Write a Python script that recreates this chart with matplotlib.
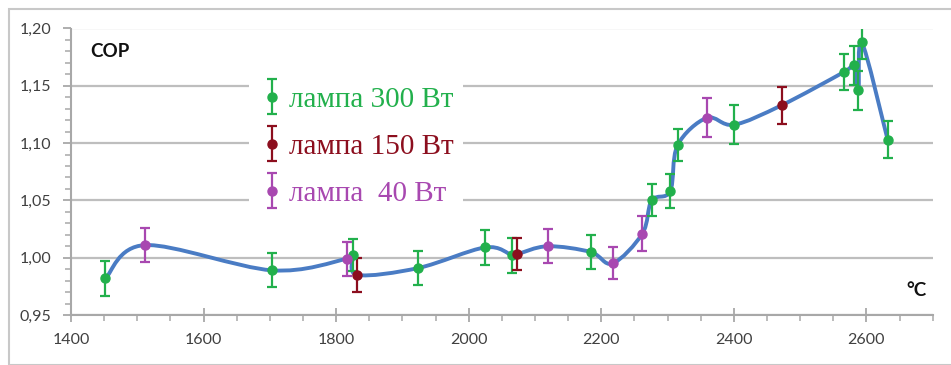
import numpy as np
import matplotlib
matplotlib.use("Agg")
import matplotlib.pyplot as plt
from matplotlib.path import Path
from matplotlib.patches import PathPatch, Rectangle
from matplotlib.ticker import MultipleLocator, FuncFormatter
from matplotlib.legend_handler import HandlerErrorbar

# ---- data ----
t300 = [1452, 1703, 1825, 1924, 2025, 2066, 2184, 2276, 2304, 2315, 2400, 2566, 2581, 2588, 2593, 2632]
cop300 = [0.982, 0.989, 1.002, 0.991, 1.009, 1.002, 1.005, 1.050, 1.058, 1.098, 1.116, 1.162, 1.168, 1.146, 1.188, 1.103]
err300 = [0.015, 0.015, 0.014, 0.015, 0.015, 0.015, 0.015, 0.014, 0.015, 0.014, 0.017, 0.016, 0.017, 0.017, 0.015, 0.016]

t150 = [1832, 2073, 2472]
cop150 = [0.985, 1.003, 1.133]
err150 = [0.015, 0.014, 0.016]

t40 = [1512, 1816, 2119, 2217, 2262, 2359]
cop40 = [1.011, 0.999, 1.010, 0.995, 1.021, 1.122]
err40 = [0.015, 0.015, 0.015, 0.014, 0.015, 0.017]

labels = ["лампа 300 Вт", "лампа 150 Вт", "лампа  40 Вт"]
col300, col150, col40 = "#22B04C", "#8C0E1E", "#A848B0"
line_col = "#4A7CC4"

fig = plt.figure(figsize=(9.51, 3.65), dpi=100)
ax = fig.add_axes([71/951, 1-315/365, (932.7-71)/951, (315-28.5)/365])

# smoothed connecting line (Catmull-Rom through all points, sorted by temperature)
allx = np.array(t300 + t150 + t40, dtype=float)
ally = np.array(cop300 + cop150 + cop40, dtype=float)
order = np.argsort(allx, kind="stable")
P = np.column_stack([allx[order], ally[order]])
n = len(P)
verts = [P[0]]
codes = [Path.MOVETO]
for i in range(n - 1):
    p0 = P[i - 1] if i > 0 else P[i]
    p1, p2 = P[i], P[i + 1]
    p3 = P[i + 2] if i + 2 < n else P[i + 1]
    c1 = p1 + (p2 - p0) / 6.0
    c2 = p2 - (p3 - p1) / 6.0
    verts += [c1, c2, p2]
    codes += [Path.CURVE4] * 3
ax.add_patch(PathPatch(Path(verts, codes), facecolor="none", edgecolor=line_col, lw=2.8, zorder=3,
                       capstyle="round", joinstyle="round"))

ekw = dict(fmt="o", ms=6.5, capsize=3.5, elinewidth=1.6, capthick=1.6, zorder=4)
h1 = ax.errorbar(t300, cop300, yerr=err300, color=col300, label=labels[0], **ekw)
h2 = ax.errorbar(t150, cop150, yerr=err150, color=col150, label=labels[1], **ekw)
h3 = ax.errorbar(t40, cop40, yerr=err40, color=col40, label=labels[2], **ekw)

ax.set_xlim(1400, 2700)
ax.set_ylim(0.95, 1.20)
ax.xaxis.set_major_locator(MultipleLocator(200))
ax.xaxis.set_minor_locator(MultipleLocator(50))
ax.yaxis.set_major_locator(MultipleLocator(0.05))
ax.yaxis.set_minor_locator(MultipleLocator(0.01))
ax.yaxis.set_major_formatter(FuncFormatter(lambda v, p: f"{v:.2f}".replace(".", ",")))

grid_col = "#BEBEBE"
ax.grid(axis="y", which="major", color=grid_col, lw=1.6, zorder=0)
ax.set_axisbelow(True)
for s in ["top", "right"]:
    ax.spines[s].set_visible(False)
for s in ["left", "bottom"]:
    ax.spines[s].set_color("#A8A8A8")
    ax.spines[s].set_linewidth(1.5)

ax.tick_params(axis="both", which="major", colors="#A8A8A8", labelcolor="#404040", length=6, width=1.3)
ax.tick_params(axis="both", which="minor", colors="#A8A8A8", length=4, width=1.1)
ax.tick_params(axis="x", which="major", direction="inout", length=10, pad=8)
ax.tick_params(axis="y", which="major", pad=8)
for lab in ax.get_xticklabels() + ax.get_yticklabels():
    lab.set_fontfamily("Lato")
    lab.set_fontsize(11.5)

ax.text(0.022, 0.92, "COP", transform=ax.transAxes, fontfamily="Lato", fontweight="bold",
        fontsize=13.5, color="#111111", va="center", ha="left")
ax.text(0.981, 0.087, "°C", transform=ax.transAxes, fontfamily="Lato", fontweight="bold",
        fontsize=13.5, color="#111111", va="center", ha="center")

leg = ax.legend([h1, h2, h3], labels, loc="upper left", bbox_to_anchor=(0.206, 0.828),
                frameon=True, facecolor="white", edgecolor="none", framealpha=1,
                prop=dict(family="Liberation Serif", size=21),
                handlelength=1.0, handletextpad=0.1, labelspacing=0.71, borderpad=0.3,
                borderaxespad=0, labelcolor=[col300, col150, col40],
                handler_map={type(h1): HandlerErrorbar(yerr_size=0.6)})
leg.set_zorder(5)

# outer chart border
fig.patches.append(Rectangle((9/951, 0.0), 1.2, 1 - 9/365, transform=fig.transFigure,
                             fill=False, edgecolor="#C8C8C8", lw=1.5))

fig.savefig("out.png", dpi=100)
